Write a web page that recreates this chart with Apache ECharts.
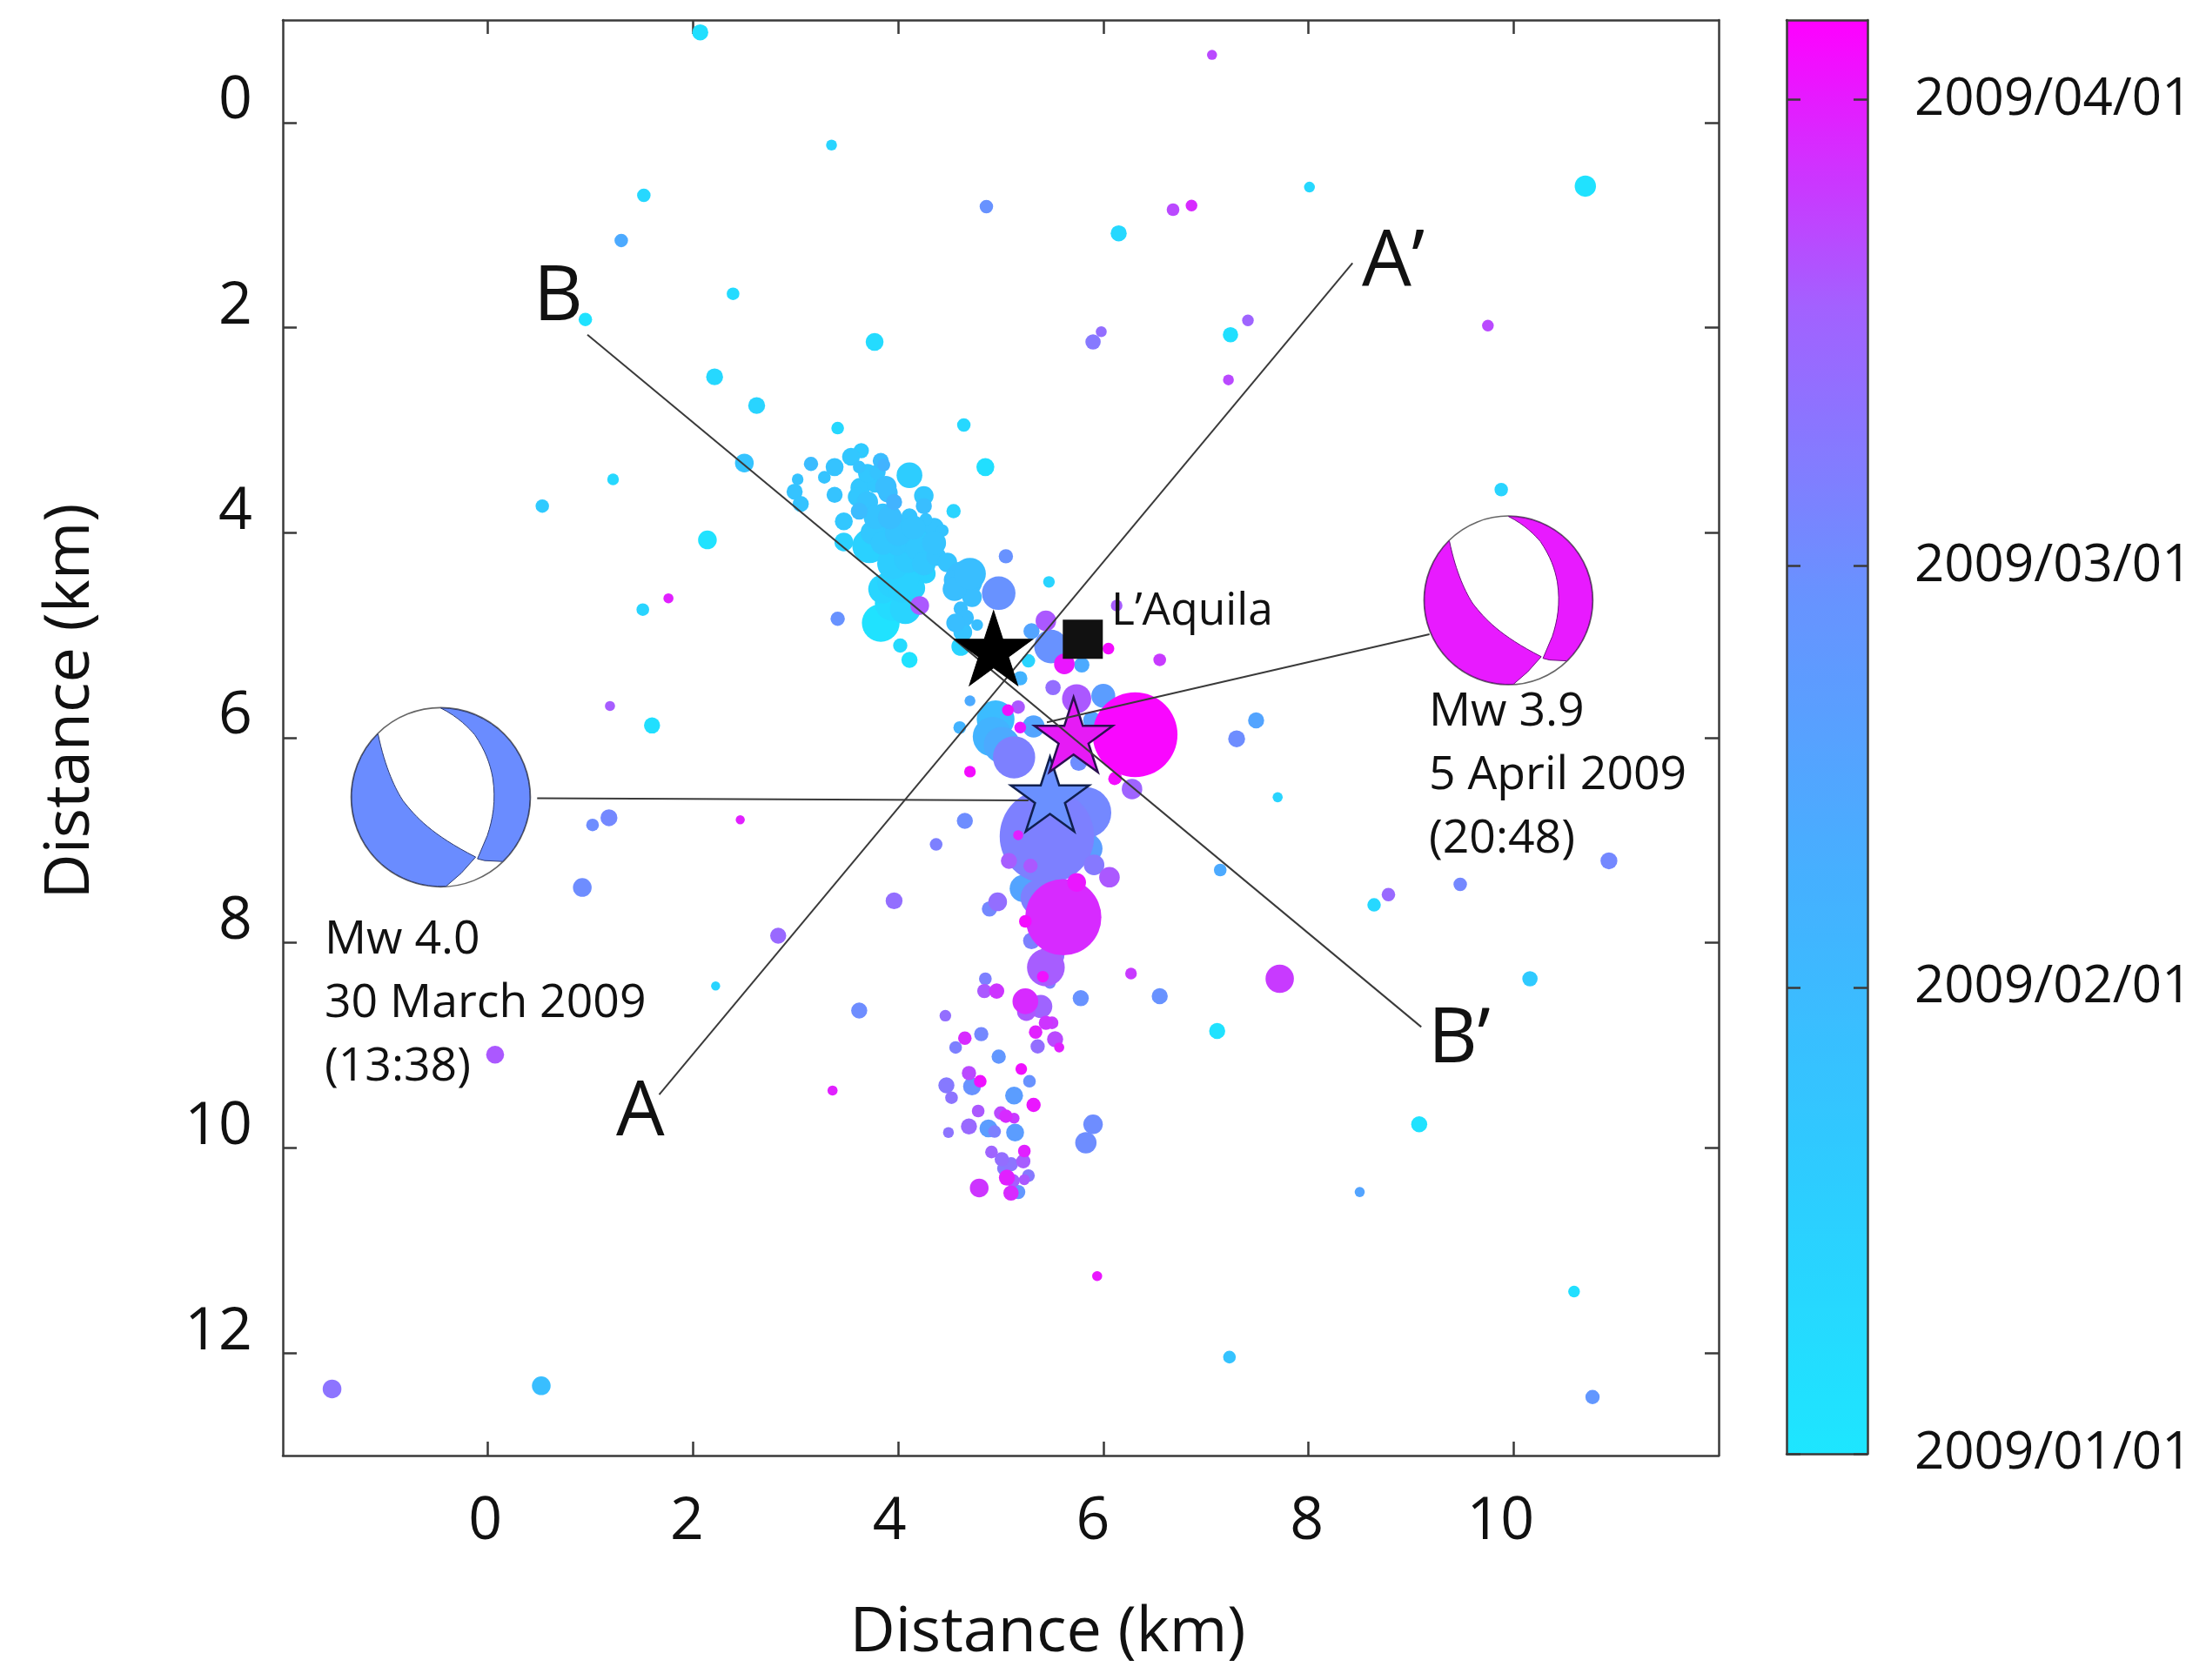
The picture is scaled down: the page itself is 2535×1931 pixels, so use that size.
<!DOCTYPE html>
<html><head><meta charset="utf-8"><style>html,body{margin:0;padding:0;background:#fff}#c{width:2535px;height:1931px}</style>
<script src="https://cdn.jsdelivr.net/npm/echarts@6/dist/echarts.min.js"></script></head>
<body><div id="c"></div><script>
// each event: [x km, y km, days since 2009/01/01, magnitude-like size value]
const scatteredEvents=[[2.07,-0.88,5,1.0],[7.06,-0.66,81,.77],[3.35,.22,13,.8],[4.86,.82,57,.9],[1.52,.71,10,.9],[1.30,1.15,42,.9],[6.68,.85,81,.87],[6.86,.81,87,.83],[6.15,1.08,10,1.0],[8.01,.63,10,.8],[10.70,.62,3,1.2],[.95,1.92,3,.9],[2.39,1.67,8,.87],[3.77,2.14,8,1.07],[5.90,2.14,67,.97],[5.98,2.04,71,.8],[7.24,2.07,5,.97],[7.41,1.93,75,.83],[7.22,2.51,81,.8],[9.75,1.98,81,.83],[2.21,2.48,10,1.03],[2.62,2.76,13,1.03],[1.22,3.48,10,.83],[.53,3.74,20,.9],[9.88,3.58,13,.9],[1.51,4.75,13,.87],[1.76,4.64,89,.77],[1.19,5.69,77,.77],[1.60,5.88,5,1.0],[7.30,6.01,59,1.03],[7.49,5.83,46,1.0],[7.70,6.58,13,.77],[2.46,6.80,89,.73],[1.02,6.85,59,.87],[1.18,6.78,61,1.03],[.92,7.46,59,1.1],[2.83,7.93,73,1.0],[3.62,8.66,59,1.0],[2.22,8.42,13,.73],[.07,9.09,78,1.07],[3.36,9.44,89,.77],[7.14,7.29,42,.87],[8.64,7.63,10,.9],[8.78,7.53,73,.9],[9.48,7.43,61,.9],[10.93,7.20,61,1.03],[10.16,8.35,20,.97],[7.72,8.35,84,1.47],[7.11,8.86,3,1.0],[9.08,9.77,3,1.0],[8.50,10.43,46,.77],[10.59,11.40,5,.83],[7.23,12.04,25,.87],[5.94,11.25,91,.77],[-1.52,12.35,69,1.1],[.52,12.32,28,1.1],[10.77,12.43,54,.93],[6.27,8.30,84,.83]];
const northCluster=[[3.41,2.98,10,.87],[4.64,2.95,10,.9],[2.50,3.32,25,1.1],[4.85,3.36,5,1.07],[3.15,3.33,30,.93],[3.02,3.48,25,.83],[2.99,3.60,25,1.0],[3.05,3.72,25,1.0],[3.28,3.46,25,.87],[3.38,3.36,25,1.07],[3.54,3.26,22,1.07],[3.64,3.20,20,.97],[3.62,3.36,25,.87],[3.83,3.30,30,1.0],[3.86,3.34,36,.87],[4.11,3.44,18,1.37],[4.25,3.64,22,1.13],[4.25,3.74,28,1.0],[4.54,3.79,13,.93],[3.38,3.63,25,1.0],[3.62,3.79,30,1.03],[3.47,3.89,22,1.07],[2.14,4.07,3,1.1],[3.72,4.13,15,1.7],[3.47,4.09,15,1.1],[3.63,3.56,22,1.13],[3.77,3.53,22,1.0],[3.80,3.41,25,1.0],[3.90,3.61,28,1.13],[3.96,3.70,36,1.0],[3.85,3.81,25,1.13],[3.85,3.95,22,1.0],[4.04,3.92,25,1.13],[4.11,3.84,25,1.0],[4.35,3.95,25,1.13],[4.43,3.98,25,.87],[4.27,3.87,25,.87],[3.99,4.13,22,1.13],[4.11,4.09,22,1.27],[4.24,4.21,20,1.4],[4.30,4.06,22,1.27],[4.37,4.23,25,1.13],[4.48,4.29,25,1.13],[4.14,4.38,15,1.5],[4.27,4.40,15,1.13],[3.94,4.49,15,1.5],[4.04,4.54,15,1.5],[4.15,4.54,15,1.27],[4.64,4.46,28,1.83],[4.54,4.46,28,1.13],[4.72,4.63,28,1.13],[4.98,4.59,57,1.67],[5.05,4.23,57,.93],[5.47,4.48,13,.83],[3.94,4.69,8,1.7],[4.07,4.74,13,1.57],[3.83,4.88,3,1.83],[4.21,4.71,78,1.1],[6.13,4.71,77,.83],[3.41,4.84,57,.93],[4.02,5.10,8,.93],[4.11,5.24,3,1.0],[4.61,4.74,28,.93],[4.66,4.83,28,1.0],[4.56,4.88,28,1.1],[4.77,4.90,28,.83],[4.63,4.97,25,1.1],[4.61,5.11,13,1.1],
[3.70,3.70,25,1.2],[3.78,3.85,25,1.3],[3.75,4.0,22,1.3],[3.85,4.1,22,1.3],[3.92,3.85,28,1.3],[4.0,4.0,25,1.4],[4.15,3.95,25,1.3],[4.2,4.15,22,1.4],[4.35,4.1,25,1.3],[4.1,4.25,20,1.5],[3.95,4.3,18,1.6],[4.25,4.3,22,1.3],[4.05,4.45,15,1.6],[3.85,4.55,12,1.5],[3.88,3.55,28,1.2],[3.7,3.42,22,1.1],[3.6,3.65,22,1.1],[4.55,4.55,28,1.3],[4.7,4.4,28,1.6]];
const centralCluster=[[5.44,4.86,78,1.17],[5.30,4.96,46,1.0],[5.49,5.11,57,1.67],[5.62,5.28,91,1.17],[5.79,5.29,42,.97],[6.05,5.13,93,.83],[6.55,5.24,84,.87],[5.27,5.25,13,.9],[5.19,5.42,36,.93],[5.51,5.51,71,.97],[4.70,5.64,42,.8],[5.74,5.62,78,1.5],[6.00,5.59,50,1.3],[6.31,5.97,94,3.63],[5.89,5.83,46,1.07],[5.32,5.89,46,1.23],[4.60,5.90,36,.87],[4.95,5.82,30,1.83],[4.92,5.99,36,1.9],[5.01,6.07,42,1.77],[5.13,6.19,64,2.0],[5.07,5.73,92,.83],[5.17,5.70,78,.9],[5.19,5.90,91,.83],[4.70,6.33,93,.83],[5.76,6.24,59,1.03],[6.11,6.40,93,.87],[6.28,6.50,75,1.17]];
const southBlob=[[5.45,6.96,64,4.0],[5.83,6.73,61,2.33],[5.85,7.08,50,1.5],[5.17,6.95,89,.77],[5.08,7.20,77,1.0],[5.29,7.25,78,.93],[5.91,7.24,67,1.17],[6.06,7.36,78,1.17],[5.22,7.47,46,1.43],[5.37,7.56,64,1.77],[5.61,7.75,87,3.3],[5.74,7.41,91,1.1],[5.24,7.79,93,.87],[5.30,7.98,64,1.03],[5.50,8.12,71,1.33],[5.44,8.24,77,1.83],[5.41,8.33,92,.83],[5.48,8.39,64,.83],[4.97,7.60,71,1.1],[4.89,7.67,61,.97],[3.96,7.59,71,1.03],[6.12,6.39,92,.87],[4.65,6.81,59,1.0],[4.37,7.04,64,.87]];
const deepCluster=[[4.85,8.35,64,.87],[4.84,8.47,78,.93],[4.96,8.47,85,.97],[5.24,8.57,87,1.37],[5.39,8.62,75,1.27],[5.25,8.67,78,1.1],[5.78,8.54,57,1.0],[6.55,8.52,57,1.0],[4.46,8.71,71,.83],[5.50,8.78,84,.87],[5.44,8.78,85,.93],[5.34,8.87,89,.9],[5.53,8.94,81,1.0],[5.57,9.02,89,.77],[5.36,9.01,71,.93],[4.65,8.93,87,.9],[4.81,8.89,61,.93],[4.56,9.02,64,.87],[4.98,9.11,54,.93],[5.20,9.23,92,.83],[5.28,9.35,57,.87],[4.69,9.27,81,.93],[4.80,9.35,92,.87],[4.72,9.40,57,1.07],[4.47,9.39,67,1.0],[4.52,9.51,69,.87],[5.13,9.49,50,1.07],[5.32,9.58,91,.93],[4.78,9.64,78,.87],[5.00,9.66,81,.9],[5.05,9.69,87,.9],[5.13,9.71,84,.8],[4.69,9.79,73,1.0],[4.88,9.81,50,1.07],[4.94,9.84,64,.87],[5.14,9.85,50,1.07],[4.49,9.85,69,.8],[4.91,10.04,75,.87],[5.23,10.03,89,.87],[5.01,10.11,71,.93],[5.10,10.16,69,.93],[5.22,10.13,77,.93],[5.03,10.20,67,.9],[5.06,10.29,89,1.0],[5.12,10.32,77,.9],[5.23,10.31,78,.8],[5.27,10.27,67,.87],[4.79,10.39,85,1.1],[5.10,10.44,87,.97],[5.17,10.43,54,.93],[5.90,9.77,59,1.13],[5.83,9.95,59,1.2]];

const profileAA=[[1.67,9.48],[8.43,1.37]];
const profileBB=[[.97,2.07],[9.10,8.82]];
const connectorMarch=[[.48,6.59],[5.27,6.61]];
const connectorApril=[[9.18,4.99],[5.45,5.85]];
const mainshock=[4.93,5.125];
const starMarch=[5.48,6.55];
const starApril=[5.71,5.97];
const laquila=[5.80,5.04];
const ballMarch=[-.46,6.58];
const ballApril=[9.95,4.66];

const axisTicks=[0,2,4,6,8,10];
const depthTicks=[0,2,4,6,8,10,12];
const dateTicks=[0,31,59,90];
const dateLabels=['2009/01/01','2009/02/01','2009/03/01','2009/04/01'];
const dayMax=95.3;
const barColors=['#1de6ff','#2ecbff','#45b0ff','#6892ff','#a361ff','#ff00ff'];

const FONT='Open Sans';
const INK='#111';
const AXIS='#3a3a3a';
const sizeOf=m=>(m-.5)*30+3.5;
const events=[...scatteredEvents,...northCluster,...centralCluster,...southBlob,...deepCluster].sort((a,b)=>a[2]-b[2]);
const STAR='path://M0,-100 L22.45,-30.9 L95.1,-30.9 L36.3,11.8 L58.8,80.9 L0,38.2 L-58.8,80.9 L-36.3,11.8 L-95.1,-30.9 L-22.45,-30.9 Z';
const BALL='path://M-70,-71 C-62,-32 -50,-8 -42,4 C-28,22 -10,42 39,67 L23,85 L6,99.8 A100,100 0 0 1 -70,-71 Z M0,-100 C20,-90 32,-77 38,-70 C50,-52 55,-38 58,-22 C62,4 58,25 52,43 L41,69 L49,71 L69,72 A100,100 0 0 0 0,-100 Z';

const frame=(extra)=>Object.assign({type:'value',axisLine:{show:true,onZero:false,lineStyle:{color:AXIS,width:2.5}},splitLine:{show:false},minorTick:{show:false}},extra);
const mkTick=(vals,len)=>({show:true,inside:true,length:len||16,customValues:vals,lineStyle:{color:AXIS,width:2.5}});
const lineSeries=(d)=>({type:'line',data:d,showSymbol:false,symbol:'none',silent:true,z:4,lineStyle:{color:'#3a3a3a',width:2},animation:false});
const marker=(pos,symbol,size,color,border,bw,z)=>({type:'scatter',data:[pos],symbol:symbol,symbolSize:size,silent:true,z:z,itemStyle:{color:color,borderColor:border,borderWidth:bw,opacity:1}});
const txt=(x,y,t,size,align)=>({type:'text',x:x,y:y,z:20,silent:true,style:{text:t,fontFamily:FONT,fontSize:size,fill:INK,textAlign:align||'left',textVerticalAlign:'middle'}});
const tickRich=(v,pad)=>({fontSize:68,fontFamily:FONT,color:INK,padding:[0,pad,0,0]});

const chart=echarts.init(document.getElementById('c'),null,{renderer:'canvas'});
chart.setOption({
  animation:false,
  backgroundColor:'#fff',
  textStyle:{fontFamily:FONT},
  grid:[{left:325,top:23,width:1650,height:1650,containLabel:false},{left:2053,top:23,width:93,height:1648,containLabel:false}],
  xAxis:[
    frame({min:-2,max:12,position:'bottom',gridIndex:0,axisTick:mkTick(axisTicks),axisLabel:{show:true,customValues:axisTicks,fontSize:68,fontFamily:FONT,color:INK,margin:43,formatter:v=>'{t'+v+'|'+v+'}',rich:{t0:tickRich(0,6),t2:tickRich(2,14),t4:tickRich(4,20),t6:tickRich(6,24),t8:tickRich(8,4),t10:tickRich(10,30)}}}),
    frame({min:-2,max:12,position:'top',gridIndex:0,axisTick:mkTick(axisTicks),axisLabel:{show:false}}),
    frame({min:0,max:1,position:'bottom',gridIndex:1,z:10,axisTick:{show:false},axisLabel:{show:false}}),
    frame({min:0,max:1,position:'top',gridIndex:1,z:10,axisTick:{show:false},axisLabel:{show:false}})
  ],
  yAxis:[
    frame({min:-1,max:13,inverse:true,position:'left',gridIndex:0,axisTick:mkTick(depthTicks),axisLabel:{show:true,customValues:depthTicks,fontSize:68,fontFamily:FONT,color:INK,margin:35,verticalAlign:'bottom',lineHeight:48}}),
    frame({min:-1,max:13,inverse:true,position:'right',gridIndex:0,axisTick:mkTick(depthTicks),axisLabel:{show:false}}),
    frame({min:0,max:dayMax,position:'left',gridIndex:1,z:10,axisTick:mkTick(dateTicks),axisLabel:{show:false}}),
    frame({min:0,max:dayMax,position:'right',gridIndex:1,z:10,axisTick:mkTick(dateTicks),axisLabel:{show:true,customValues:dateTicks,fontSize:60,fontFamily:FONT,color:INK,margin:54,formatter:v=>dateLabels[dateTicks.indexOf(v)]}})
  ],
  visualMap:[{type:'continuous',show:true,seriesIndex:0,dimension:2,min:0,max:dayMax,calculable:false,realtime:false,hoverLink:false,left:2053,top:23,itemWidth:93,itemHeight:1648,padding:0,text:null,showLabel:false,inRange:{color:barColors},outOfRange:{color:barColors}}],
  series:[
    {type:'scatter',data:events,symbol:'circle',symbolSize:v=>sizeOf(v[3]),silent:true,z:2,itemStyle:{opacity:1},encode:{x:0,y:1}},
    marker(starMarch,STAR,[90,86],'#6a90ff','#10204f',2.5,3),
    marker(starApril,STAR,[90,86],'#e61bf5','#2a1050',2.5,3),
    lineSeries(profileAA),lineSeries(profileBB),lineSeries(connectorMarch),lineSeries(connectorApril),
    marker(mainshock,STAR,[90,86],'#000','#000',1,5),
    marker(laquila,'rect',[46,45],'#111','#111',0,5),
    marker(ballMarch,'circle',206,'#fff','#666',1.6,6),
    marker(ballMarch,BALL,[205,205],'#6a8cff','#2c3a70',1,7),
    marker(ballApril,'circle',194,'#fff','#666',1.6,6),
    marker(ballApril,BALL,[193,193],'#e81aff','#6a1080',1,7)
  ],
  graphic:{elements:[
    txt(1204,1877,'Distance (km)',72,'center'),
    Object.assign(txt(81,806,'Distance (km)',72,'center'),{rotation:Math.PI/2}),
    txt(1565,302,'A’',90),txt(613,343,'B',88),txt(708,1280,'A',88),txt(1641,1196,'B’',88),
    txt(1277,703,'L’Aquila',51.5),
    txt(373,1081,'Mw 4.0',53.5),txt(373,1154,'30 March 2009',53.5),txt(373,1227,'(13:38)',53.5),
    txt(1642,819,'Mw 3.9',53.5),txt(1642,892,'5 April 2009',53.5),txt(1642,965,'(20:48)',53.5)
  ]}
});
</script></body></html>
